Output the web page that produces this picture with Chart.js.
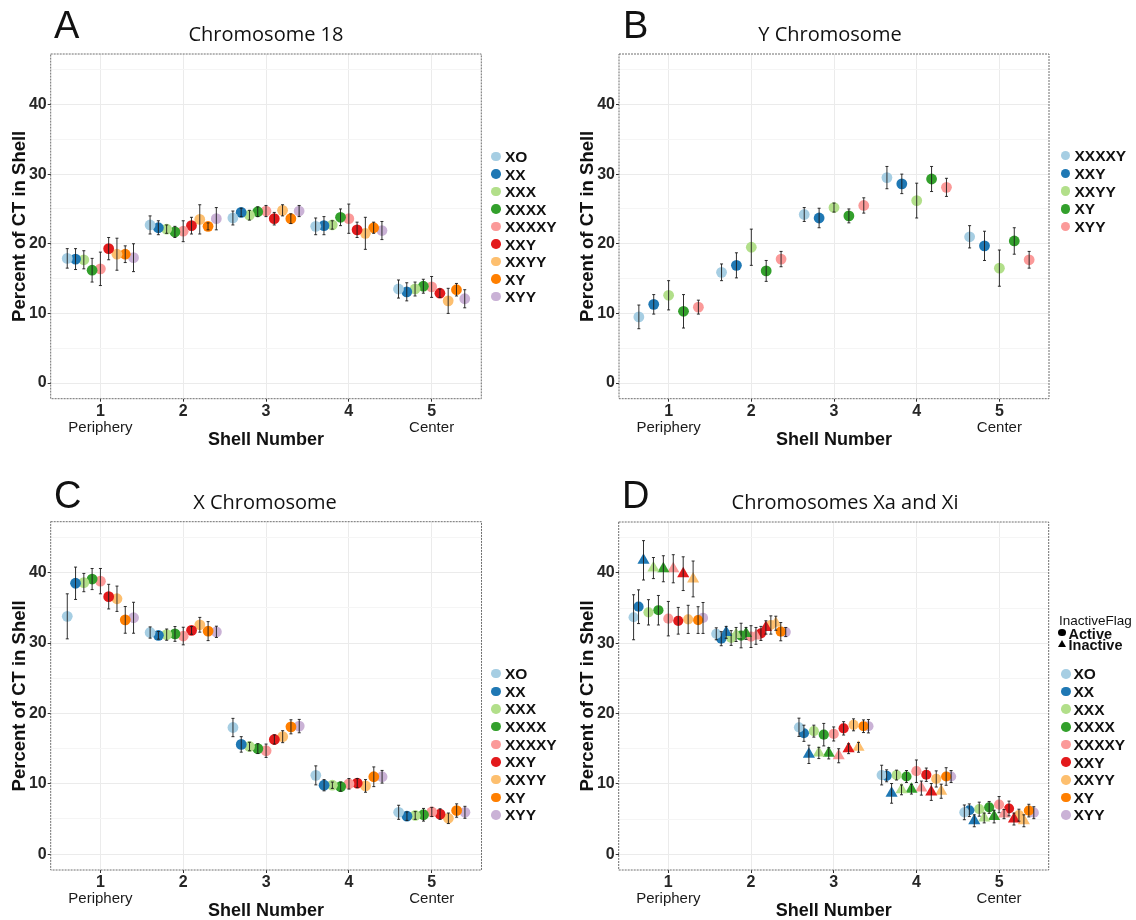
<!DOCTYPE html>
<html><head><meta charset="utf-8">
<script src="https://cdn.jsdelivr.net/npm/chart.js@4.4.1/dist/chart.umd.min.js"></script>
<style>
html,body{margin:0;padding:0;width:1136px;height:920px;overflow:hidden;background:#fff;}
canvas{position:absolute;}
.t{position:absolute;white-space:nowrap;font-family:"Liberation Sans",Arial,sans-serif;color:#111;}
.dot{position:absolute;border-radius:50%;}
</style></head><body>
<canvas id="cA"></canvas><canvas id="cB"></canvas><canvas id="cC"></canvas><canvas id="cD"></canvas>
<script>
// ---------------- DATA ----------------
const shells = [1, 2, 3, 4, 5];
const endTickValues = [1, 5];
const endTickLabels = ['Periphery', 'Center'];
const yGridValues = [0, 5, 10, 15, 20, 25, 30, 35, 40, 45];

const genotypes = ['XO', 'XX', 'XXX', 'XXXX', 'XXXXY', 'XXY', 'XXYY', 'XY', 'XYY'];
const genotypesY = ['XXXXY', 'XXY', 'XXYY', 'XY', 'XYY'];
const inactiveGenotypes = ['XX', 'XXX', 'XXXX', 'XXXXY', 'XXY', 'XXYY'];
const palette = ['#A6CEE3', '#1F78B4', '#B2DF8A', '#33A02C', '#FB9A99', '#E31A1C', '#FDBF6F', '#FF7F00', '#CAB2D6'];

// Panel A: Chromosome 18 (rows = genotypes, cols = shells 1..5)
const chr18Mean = [
  [17.9, 22.7, 23.7, 22.5, 13.5],
  [17.8, 22.3, 24.5, 22.6, 13.1],
  [17.7, 22.1, 24.1, 22.7, 13.5],
  [16.2, 21.7, 24.6, 23.8, 13.9],
  [16.4, 21.8, 24.7, 23.6, 13.8],
  [19.3, 22.6, 23.6, 22.0, 12.9],
  [18.5, 23.5, 24.8, 21.5, 11.8],
  [18.5, 22.5, 23.6, 22.3, 13.4],
  [18.0, 23.6, 24.7, 21.9, 12.1]
];
const chr18Err = [
  [1.4, 1.3, 1.0, 1.2, 1.3],
  [1.5, 1.0, 0.6, 1.3, 1.3],
  [1.3, 0.6, 0.7, 0.6, 1.0],
  [1.7, 0.8, 0.7, 1.2, 1.0],
  [2.4, 1.5, 0.8, 2.1, 1.5],
  [1.6, 1.2, 0.9, 1.1, 0.6],
  [2.3, 2.1, 0.8, 2.3, 1.8],
  [1.2, 0.5, 0.7, 0.8, 0.9],
  [2.0, 1.6, 0.8, 1.3, 1.3]
];

// Panel B: Y chromosome (rows = genotypesY)
const chrYMean = [
  [9.5, 15.9, 24.2, 29.5, 21.0],
  [11.3, 16.9, 23.7, 28.6, 19.7],
  [12.6, 19.5, 25.2, 26.2, 16.5],
  [10.3, 16.1, 24.0, 29.3, 20.4],
  [10.9, 17.8, 25.5, 28.1, 17.7]
];
const chrYErr = [
  [1.7, 1.2, 1.0, 1.6, 1.6],
  [1.4, 1.8, 1.4, 1.4, 2.1],
  [2.1, 2.6, 0.65, 2.5, 2.6],
  [2.4, 1.5, 1.0, 1.8, 1.9],
  [1.0, 1.1, 1.1, 1.3, 1.2]
];

// Panel C: X chromosome (rows = genotypes)
const chrXMean = [
  [33.8, 31.5, 18.0, 11.2, 5.95],
  [38.5, 31.1, 15.6, 9.8, 5.4],
  [38.6, 31.2, 15.3, 9.8, 5.5],
  [39.1, 31.3, 15.0, 9.6, 5.6],
  [38.8, 31.0, 14.7, 10.0, 6.0],
  [36.6, 31.8, 16.3, 10.1, 5.7],
  [36.3, 32.6, 16.7, 9.7, 5.1],
  [33.3, 31.7, 18.1, 11.0, 6.2],
  [33.6, 31.6, 18.2, 11.0, 5.95]
];
const chrXErr = [
  [3.2, 0.8, 1.3, 1.35, 1.0],
  [2.3, 0.55, 1.1, 0.8, 0.6],
  [1.3, 0.8, 0.6, 0.45, 0.55],
  [1.5, 1.05, 0.7, 0.65, 0.9],
  [1.8, 1.25, 0.95, 0.75, 0.65],
  [1.75, 0.55, 0.65, 0.65, 0.75],
  [1.8, 1.05, 0.85, 0.9, 0.75],
  [1.9, 1.35, 1.0, 1.4, 0.95],
  [2.2, 0.8, 0.95, 0.9, 0.85]
];

// Panel D: Xa (active, rows = genotypes) and Xi (inactive, rows = inactiveGenotypes)
const xaMean = [
  [33.7, 31.35, 18.05, 11.25, 5.95],
  [35.2, 30.65, 17.2, 11.15, 6.25],
  [34.4, 30.75, 17.5, 11.25, 6.4],
  [34.7, 31.1, 17.0, 11.05, 6.65],
  [33.5, 30.95, 17.1, 11.8, 7.05],
  [33.2, 31.4, 17.9, 11.3, 6.5],
  [33.4, 32.6, 18.4, 10.7, 5.55],
  [33.3, 31.65, 18.2, 11.05, 6.2],
  [33.6, 31.6, 18.2, 11.05, 5.9]
];
const xaErr = [
  [3.2, 0.85, 1.3, 1.4, 1.05],
  [2.4, 1.0, 1.15, 0.85, 0.9],
  [1.8, 1.05, 0.85, 0.7, 1.0],
  [2.1, 1.75, 1.6, 0.85, 0.85],
  [2.45, 1.55, 1.0, 1.6, 1.15],
  [1.9, 1.0, 0.95, 0.95, 1.05],
  [2.0, 1.3, 0.85, 1.15, 0.85],
  [1.9, 1.3, 0.9, 1.25, 0.9],
  [2.2, 0.65, 0.95, 0.85, 0.85]
];
const xiMean = [
  [41.8, 31.55, 14.2, 8.65, 4.75],
  [40.7, 31.25, 14.4, 9.15, 5.15],
  [40.6, 31.4, 14.35, 9.25, 5.35],
  [40.6, 31.05, 14.0, 9.4, 5.7],
  [39.9, 32.25, 15.0, 8.85, 5.0],
  [39.15, 32.85, 15.2, 8.95, 4.75]
];
const xiErr = [
  [2.8, 0.85, 1.3, 1.4, 0.85],
  [1.5, 1.0, 0.8, 0.7, 0.7],
  [1.85, 0.85, 0.8, 0.7, 0.9],
  [2.0, 1.2, 1.0, 1.0, 0.65],
  [2.4, 0.95, 0.7, 1.2, 0.85],
  [2.55, 1.0, 0.7, 1.0, 0.85]
];

// ---------------- RENDERING ----------------
const FONT = '"Liberation Sans", Arial, sans-serif';
const TFONT = '"Open Sans", "Liberation Sans", sans-serif';
const X_MIN = 0.4, X_MAX = 5.6, Y_MIN = -2.25, Y_MAX = 47.25;
const DODGE = 0.9;

function dodgeX(shell, idx, n) { return shell + (idx - (n - 1) / 2) * (DODGE / n); }

const errorBars = {
  id: 'errorBars',
  afterDatasetsDraw(chart) {
    const ctx = chart.ctx, xs = chart.scales.x, ys = chart.scales.y;
    ctx.save();
    ctx.strokeStyle = 'rgba(25,25,25,0.9)';
    ctx.lineWidth = 1;
    chart.data.datasets.forEach(ds => {
      ds.data.forEach((p, j) => {
        const e = ds.errors[j];
        const px = xs.getPixelForValue(p.x);
        const y1 = ys.getPixelForValue(p.y - e), y2 = ys.getPixelForValue(p.y + e);
        ctx.beginPath();
        ctx.moveTo(px, y1); ctx.lineTo(px, y2);
        ctx.moveTo(px - 1.5, y1); ctx.lineTo(px + 1.5, y1);
        ctx.moveTo(px - 1.5, y2); ctx.lineTo(px + 1.5, y2);
        ctx.stroke();
      });
    });
    ctx.restore();
  }
};
const panelBorder = {
  id: 'panelBorder',
  afterDraw(chart) {
    const {left, top, right, bottom} = chart.chartArea;
    const ctx = chart.ctx;
    ctx.save();
    ctx.strokeStyle = '#6e6e6e';
    ctx.lineWidth = 1;
    ctx.setLineDash([2, 1]);
    ctx.strokeRect(left, top, right - left, bottom - top);
    ctx.restore();
  }
};

function makeChart(id, pos, area, datasets) {
  const W = 568, H = 480, XH = 20;
  const cv = document.getElementById(id);
  cv.width = W; cv.height = H;
  cv.style.left = pos[0] + 'px'; cv.style.top = pos[1] + 'px';
  return new Chart(cv, {
    type: 'scatter',
    data: { datasets },
    plugins: [errorBars, panelBorder],
    options: {
      responsive: false, animation: false, devicePixelRatio: 1, events: [],
      layout: { padding: { left: 0, top: area.t, right: W - area.r, bottom: 0 } },
      plugins: { legend: { display: false }, tooltip: { enabled: false } },
      scales: {
        x: {
          type: 'linear', position: 'bottom', weight: 0, min: X_MIN, max: X_MAX,
          afterBuildTicks: s => { s.ticks = shells.map(v => ({ value: v })); },
          afterFit: s => { s.height = XH; },
          ticks: { callback: v => String(v), font: { family: FONT, size: 16, weight: 'bold' }, color: '#262626', padding: 0, autoSkip: false, maxRotation: 0 },
          grid: { color: '#ebebeb', lineWidth: 1, tickColor: '#333', tickLength: 3 },
          border: { display: false }
        },
        x2: {
          type: 'linear', position: 'bottom', weight: 1, min: X_MIN, max: X_MAX,
          afterBuildTicks: s => { s.ticks = endTickValues.map(v => ({ value: v })); },
          afterFit: s => { s.height = H - area.b - XH; },
          ticks: { callback: (v, i) => endTickLabels[i], font: { family: FONT, size: 15 }, color: '#1a1a1a', padding: 0, autoSkip: false, maxRotation: 0 },
          grid: { display: false, drawTicks: false, tickLength: 0 }, border: { display: false },
          title: { display: true, text: 'Shell Number', font: { family: FONT, size: 18, weight: 'bold' }, color: '#111', padding: { top: 0, bottom: H - area.b - 41 - 10.8 } }
        },
        y: {
          type: 'linear', position: 'left', min: Y_MIN, max: Y_MAX,
          afterBuildTicks: s => { s.ticks = yGridValues.map(v => ({ value: v })); },
          afterFit: s => { s.width = area.l; },
          ticks: { callback: v => (v % 10 === 0 ? String(v) : ''), font: { family: FONT, size: 16, weight: 'bold' }, color: '#262626', padding: 1, autoSkip: false },
          grid: {
            color: c => (c.tick && c.tick.value % 10 === 0) ? '#ebebeb' : '#f5f5f5',
            tickColor: c => (c.tick && c.tick.value % 10 === 0) ? '#333' : 'rgba(0,0,0,0)',
            tickLength: 3
          },
          border: { display: false },
          title: { display: true, text: 'Percent of CT in Shell', font: { family: FONT, size: 18.5, weight: 'bold' }, color: '#111', padding: { top: 9, bottom: 0 } }
        }
      }
    }
  });
}

function simpleDatasets(names, colorList, means, errs) {
  const n = names.length;
  return names.map((g, i) => ({
    label: g,
    data: shells.map((s, j) => ({ x: dodgeX(s, i, n), y: means[i][j] })),
    errors: errs[i],
    backgroundColor: colorList[i], pointRadius: 5.4, pointBorderWidth: 0, pointStyle: 'circle'
  }));
}

// Panel D groups: genotype active, then its inactive counterpart if any
const dGroups = [];
genotypes.forEach((g, i) => {
  dGroups.push({ g, color: palette[i], mean: xaMean[i], err: xaErr[i], style: 'circle' });
  const k = inactiveGenotypes.indexOf(g);
  if (k >= 0) dGroups.push({ g, color: palette[i], mean: xiMean[k], err: xiErr[k], style: 'triangle' });
});
const dDatasets = dGroups.map((grp, idx) => ({
  label: grp.g,
  data: shells.map((s, j) => ({ x: dodgeX(s, idx, dGroups.length), y: grp.mean[j] })),
  errors: grp.err,
  backgroundColor: grp.color, pointBorderWidth: 0,
  pointStyle: grp.style, pointRadius: grp.style === 'triangle' ? 7 : 5.1
}));

makeChart('cA', [0, 0], { l: 50.7, t: 54, r: 481.3, b: 398.7 }, simpleDatasets(genotypes, palette, chr18Mean, chr18Err));
makeChart('cB', [568, 0], { l: 51, t: 54, r: 481, b: 398.7 }, simpleDatasets(genotypesY, palette, chrYMean, chrYErr));
makeChart('cC', [0, 460], { l: 50.7, t: 61.7, r: 481.5, b: 410 }, simpleDatasets(genotypes, palette, chrXMean, chrXErr));
makeChart('cD', [568, 460], { l: 50.7, t: 62, r: 480.7, b: 410 }, dDatasets);

// ---------------- TEXT OVERLAYS ----------------
function addText(str, x, capCenterY, size, opts = {}) {
  const d = document.createElement('div');
  d.className = 't';
  d.textContent = str;
  const fam = opts.family || FONT;
  const k = opts.family === TFONT ? 0.531 : 0.489;
  d.style.fontFamily = fam;
  d.style.fontSize = size + 'px';
  d.style.lineHeight = size + 'px';
  d.style.fontWeight = opts.bold ? 'bold' : 'normal';
  d.style.top = (capCenterY - k * size) + 'px';
  d.style.left = x + 'px';
  if (opts.center) d.style.transform = 'translateX(-50%)';
  document.body.appendChild(d);
  return d;
}
function addDot(cx, cy, r, color) {
  const d = document.createElement('div');
  d.className = 'dot';
  d.style.left = (cx - r) + 'px'; d.style.top = (cy - r) + 'px';
  d.style.width = 2 * r + 'px'; d.style.height = 2 * r + 'px';
  d.style.background = color;
  document.body.appendChild(d);
}
function addLegend(names, colors, cx, tx, y0, step) {
  names.forEach((g, i) => {
    addDot(cx, y0 + i * step, 4.8, colors[i]);
    addText(g, tx, y0 + i * step, 15.5, { bold: true });
  });
}

// panel letters
addText('A', 54, 25, 38);
addText('B', 623, 25, 38);
addText('C', 54, 495, 38);
addText('D', 622, 495, 38);
// titles
addText('Chromosome 18', 266, 35, 20, { family: TFONT, center: true });
addText('Y Chromosome', 830, 35, 20, { family: TFONT, center: true });
addText('X Chromosome', 265, 502.5, 20, { family: TFONT, center: true });
addText('Chromosomes Xa and Xi', 845, 502.5, 20, { family: TFONT, center: true });
// legends
addLegend(genotypes, palette, 496, 505, 156.7, 17.5);
addLegend(genotypesY, palette, 1065.5, 1074.5, 155.7, 17.75);
addLegend(genotypes, palette, 496, 505, 673.7, 17.66);
addLegend(genotypes, palette, 1066, 1073.5, 674, 17.63);
// shape legend for panel D
addText('InactiveFlag', 1059, 621, 13.5);
addDot(1062, 632.3, 3.7, '#000');
const tri = document.createElement('div');
tri.style.cssText = 'position:absolute;left:1058px;top:639.5px;width:0;height:0;border-left:4px solid transparent;border-right:4px solid transparent;border-bottom:7px solid #000;';
document.body.appendChild(tri);
addText('Active', 1068.5, 633.8, 14.5, { bold: true });
addText('Inactive', 1068.5, 645, 14.5, { bold: true });
</script>
</body></html>
